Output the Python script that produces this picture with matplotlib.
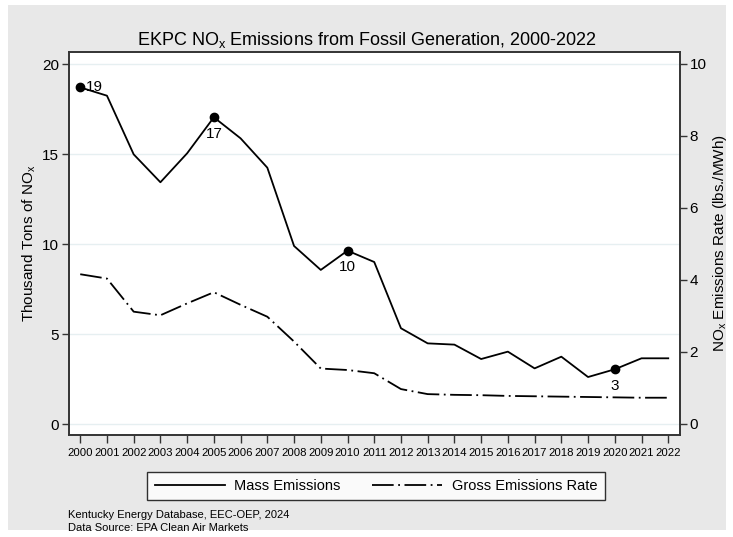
import matplotlib
matplotlib.use('Agg')
import matplotlib.pyplot as plt
from matplotlib.patches import Rectangle

plt.rcParams['font.family'] = ['Liberation Sans', 'DejaVu Sans']
plt.rcParams['mathtext.fontset'] = 'custom'
plt.rcParams['mathtext.rm'] = 'Liberation Sans'
plt.rcParams['mathtext.default'] = 'regular'

years = list(range(2000, 2023))
mass_emissions = [18.7, 18.24, 14.98, 13.43, 15.04, 17.04, 15.87, 14.24, 9.89, 8.56,
                  9.63, 9.0, 5.32, 4.48, 4.41, 3.61, 4.02, 3.09, 3.74, 2.61,
                  3.04, 3.65, 3.65]
emission_rate = [4.16, 4.04, 3.12, 3.02, 3.35, 3.66, 3.31, 2.98, 2.29, 1.54,
                 1.50, 1.41, 0.97, 0.83, 0.81, 0.80, 0.78, 0.77, 0.76, 0.75,
                 0.74, 0.73, 0.73]
labelled_years = [2000, 2005, 2010, 2020]
left_ticks = [0, 5, 10, 15, 20]
right_ticks = [0, 2, 4, 6, 8, 10]

fig = plt.figure(figsize=(7.33, 5.37), dpi=100)
fig.patch.set_facecolor('white')
fig.patches.append(Rectangle((8 / 733, 7 / 537), 718 / 733, 525 / 537,
                             transform=fig.transFigure, facecolor='#e8e8e8',
                             edgecolor='none', zorder=-10))

ax = fig.add_axes([69 / 733, 1 - 435 / 537, 611 / 733, 383 / 537])
ax.set_facecolor('white')
ax2 = ax.twinx()

ax.set_xlim(1999.58, 2022.44)
ax.set_ylim(-0.611, 20.667)
ax2.set_ylim(-0.3056, 10.333)

for t in left_ticks:
    ax.axhline(t, color='#e6eff1', lw=1.0, zorder=0)

line1, = ax.plot(years, mass_emissions, color='black', lw=1.3, zorder=3)
line2, = ax2.plot(years, emission_rate, color='black', lw=1.3,
                  dashes=(12, 2.5, 1, 2.5), zorder=3)

for y in labelled_years:
    v = mass_emissions[years.index(y)]
    ax.plot(y, v, 'o', color='black', ms=6, zorder=4)
    if y == 2000:
        ax.annotate(f'{round(v)}', (y, v), xytext=(4, 0), textcoords='offset points',
                    ha='left', va='center', fontsize=11)
    else:
        ax.annotate(f'{round(v)}', (y, v), xytext=(0, -7), textcoords='offset points',
                    ha='center', va='top', fontsize=11)

ax.set_xticks(years)
ax.set_xticklabels([str(y) for y in years], fontsize=8.2)
ax.set_yticks(left_ticks)
ax.tick_params(axis='y', labelsize=11, length=5, width=1, color='#333333', pad=2)
ax.tick_params(axis='x', length=6, width=1, color='#333333', pad=3)
ax2.set_yticks(right_ticks)
ax2.tick_params(axis='y', labelsize=11, length=5, width=1, color='#333333', pad=2)

for a in (ax, ax2):
    for s in a.spines.values():
        s.set_color('#333333')
        s.set_linewidth(1.2)

ax.set_ylabel('Thousand Tons of NO$_x$', fontsize=11, labelpad=3)
ax2.set_ylabel('NO$_x$ Emissions Rate (lbs./MWh)', fontsize=11, labelpad=3)

fig.suptitle('EKPC NO$_x$ Emissions from Fossil Generation, 2000-2022',
             fontsize=13, x=0.5, y=1 - 40 / 537, va='center')

leg = fig.legend([line1, line2], ['Mass Emissions', 'Gross Emissions Rate'],
                 loc='center', bbox_to_anchor=(376 / 733, 1 - 486 / 537), ncol=2,
                 fontsize=10.5, frameon=True, fancybox=False, handlelength=4.8,
                 borderpad=0.5, columnspacing=2.2, handletextpad=0.65)
leg.get_frame().set_edgecolor('black')
leg.get_frame().set_linewidth(1.0)
leg.get_frame().set_facecolor('white')

fig.text(68 / 733, 1 - 515 / 537, 'Kentucky Energy Database, EEC-OEP, 2024',
         fontsize=8, va='center', ha='left')
fig.text(68 / 733, 1 - 528 / 537, 'Data Source: EPA Clean Air Markets',
         fontsize=8, va='center', ha='left')

fig.savefig('out.png', dpi=100, facecolor=fig.get_facecolor())
